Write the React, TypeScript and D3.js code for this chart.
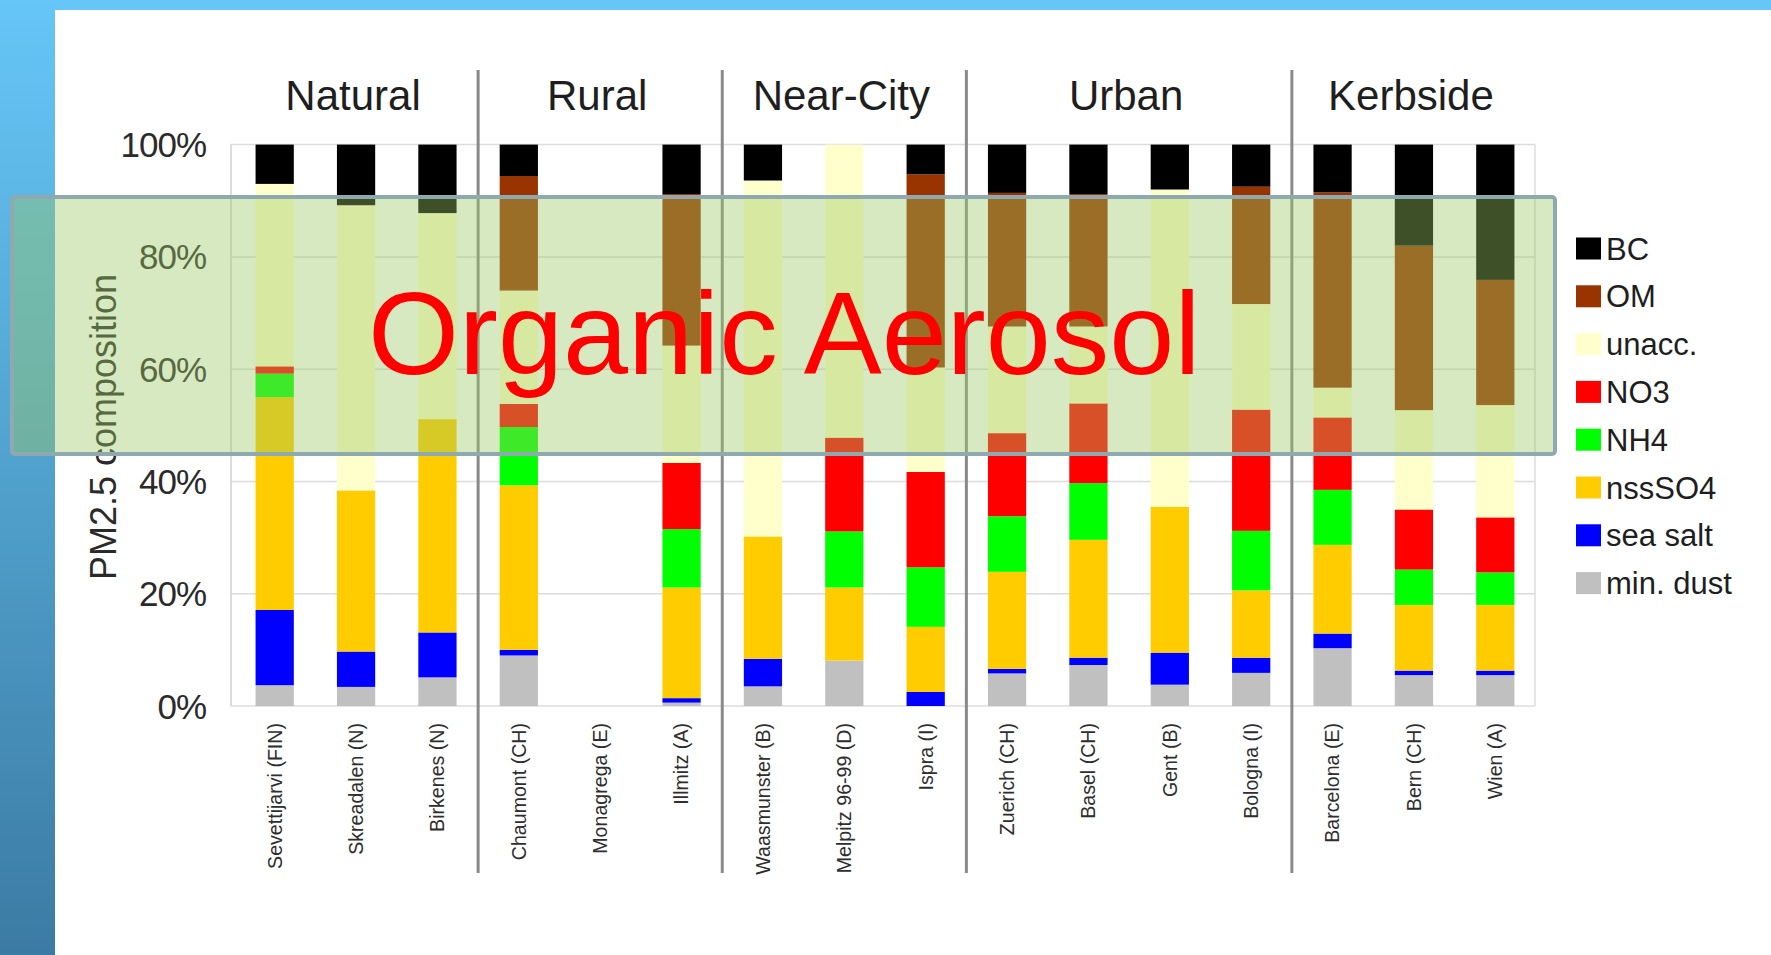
import React from 'react';
import * as d3 from 'd3';

const categories = [
  'Sevettijarvi (FIN)', 'Skreadalen (N)', 'Birkenes (N)', 'Chaumont (CH)', 'Monagrega (E)', 'Illmitz (A)',
  'Waasmunster (B)', 'Melpitz 96-99 (D)', 'Ispra (I)', 'Zuerich (CH)', 'Basel (CH)', 'Gent (B)',
  'Bologna (I)', 'Barcelona (E)', 'Bern (CH)', 'Wien (A)',
];
const groupNames = ['Natural', 'Rural', 'Near-City', 'Urban', 'Kerbside'];
const groupSizes = [3, 3, 3, 4, 3];

const minDust = [3.7, 3.4, 5.1, 9.0, 0, 0.6, 3.5, 8.1, 0, 5.8, 7.3, 3.8, 5.9, 10.3, 5.5, 5.5];
const seaSalt = [13.4, 6.3, 8.0, 1.0, 0, 0.8, 4.9, 0, 2.5, 0.8, 1.3, 5.7, 2.7, 2.6, 0.8, 0.8];
const nssSO4 = [37.9, 28.7, 38.0, 29.3, 0, 19.7, 21.8, 13.0, 11.6, 17.3, 21.0, 26.0, 12.0, 15.8, 11.7, 11.7];
const nh4 = [4.2, 0, 0, 10.4, 0, 10.4, 0, 10.0, 10.6, 9.9, 10.1, 0, 10.6, 9.8, 6.3, 5.8];
const no3 = [1.3, 0, 0, 4.1, 0, 11.8, 0, 16.7, 17.0, 14.8, 14.2, 0, 21.6, 12.9, 10.7, 9.8];
const unacc = [32.5, 50.8, 36.7, 20.2, 0, 20.9, 63.4, 52.2, 18.6, 19.0, 13.7, 56.5, 18.8, 5.3, 17.7, 20.0];
const om = [0, 0, 0, 20.4, 0, 27.0, 0, 0, 34.4, 23.8, 23.6, 0, 20.9, 34.8, 29.3, 22.3];
const bc = [7.0, 10.8, 12.2, 5.6, 0, 8.8, 6.4, 0, 5.3, 8.6, 8.8, 8.0, 7.5, 8.5, 18.0, 24.1];

const seriesKeys = ['min. dust', 'sea salt', 'nssSO4', 'NH4', 'NO3', 'unacc.', 'OM', 'BC'];
const seriesValues = [minDust, seaSalt, nssSO4, nh4, no3, unacc, om, bc];
const seriesColors = ['#C0C0C0', '#0000FF', '#FFCC00', '#00FF00', '#FF0000', '#FFFFCC', '#993300', '#000000'];
const legendOrder = ['BC', 'OM', 'unacc.', 'NO3', 'NH4', 'nssSO4', 'sea salt', 'min. dust'];
const yTicks = [0, 20, 40, 60, 80, 100];

const W = 1771;
const H = 955;
const FONT = '"Liberation Sans", Arial, sans-serif';

export default function App() {
  const rows = categories.map((c, i) => {
    const r: Record<string, any> = { cat: c };
    seriesKeys.forEach((k, j) => (r[k] = seriesValues[j][i]));
    return r;
  });
  const stacked = d3.stack().keys(seriesKeys)(rows as any);

  const x = d3.scaleBand().domain(categories).range([234, 1536]).paddingInner(0.53).paddingOuter(0.265);
  const y = d3.scaleLinear().domain([0, 100]).range([706, 144.6]);
  const color = d3.scaleOrdinal<string, string>().domain(seriesKeys).range(seriesColors);
  const step = x.step();

  const bounds: number[] = [];
  let acc = 0;
  groupSizes.forEach((n) => {
    acc += n;
    bounds.push(acc);
  });
  const groupStarts = groupSizes.map((_, i) => (i === 0 ? 0 : bounds[i - 1]));
  const center = (i: number) => (x(categories[i]) as number) + x.bandwidth() / 2;

  return (
    <svg width={W} height={H} style={{ position: 'absolute', left: 0, top: 0 }} fontFamily={FONT}>
      <defs>
        <linearGradient id="band" x1="0" y1="0" x2="0" y2="1">
          <stop offset="0" stopColor="#66c6f7" />
          <stop offset="1" stopColor="#3b7ba3" />
        </linearGradient>
      </defs>
      <rect x={0} y={0} width={W} height={H} fill="#ffffff" />
      <rect x={0} y={0} width={W} height={10} fill="#66c6f7" />
      <rect x={0} y={0} width={55} height={H} fill="url(#band)" />

      {yTicks.map((t) => (
        <line key={t} x1={231} x2={1535} y1={y(t)} y2={y(t)} stroke="#dcdcdc" strokeWidth={1.5} />
      ))}
      <line x1={231} x2={231} y1={y(100)} y2={y(0)} stroke="#d0d0d0" strokeWidth={1.5} />
      <line x1={1535} x2={1535} y1={y(100)} y2={y(0)} stroke="#dcdcdc" strokeWidth={1.5} />

      {yTicks.map((t) => (
        <text key={t} x={206} y={y(t)} dy="0.36em" textAnchor="end" fontSize={35} fill="#2a2a2a" letterSpacing={-1}>
          {t}%
        </text>
      ))}
      <text
        transform={`translate(103, 427) rotate(-90)`}
        textAnchor="middle"
        dy="0.36em"
        fontSize={36}
        fill="#2a2a2a"
      >
        PM2.5 composition
      </text>

      {stacked.map((s) => (
        <g key={s.key} fill={color(s.key)}>
          {s.map((d, i) =>
            d[1] - d[0] > 0 ? (
              <rect
                key={i}
                x={x(categories[i])}
                width={x.bandwidth()}
                y={y(d[1])}
                height={y(d[0]) - y(d[1])}
              />
            ) : null
          )}
        </g>
      ))}

      {bounds.slice(0, -1).map((b, i) => {
        const bx = 234 + step * b;
        return <line key={i} x1={bx} x2={bx} y1={70} y2={873} stroke="#8a8a8a" strokeWidth={3} />;
      })}

      {groupNames.map((g, i) => {
        const a = groupStarts[i];
        const b = bounds[i] - 1;
        const cx = (center(a) + center(b)) / 2;
        return (
          <text key={g} x={cx - 3} y={110} textAnchor="middle" fontSize={42} fill="#1e1e1e">
            {g}
          </text>
        );
      })}

      {categories.map((c, i) => (
        <text
          key={c}
          transform={`translate(${center(i)}, 723) rotate(-90)`}
          textAnchor="end"
          dy="0.35em"
          fontSize={19.6}
          fill="#2e2e2e"
        >
          {c}
        </text>
      ))}

      {legendOrder.map((k, i) => {
        const ly = 248.5 + i * 47.8;
        return (
          <g key={k}>
            <rect x={1576} y={ly - 11} width={25} height={22} fill={color(k)} />
            <text x={1606} y={ly} dy="0.36em" fontSize={31} fill="#1e1e1e">
              {k}
            </text>
          </g>
        );
      })}

      <rect
        x={12}
        y={197}
        width={1543}
        height={257}
        rx={3}
        fill="rgb(155,200,98)"
        fillOpacity={0.4}
        stroke="#8fa9b1"
        strokeWidth={4}
      />
      <text x={368} y={374} fontSize={117} fill="#ff0000">
        Organic Aerosol
      </text>
    </svg>
  );
}
